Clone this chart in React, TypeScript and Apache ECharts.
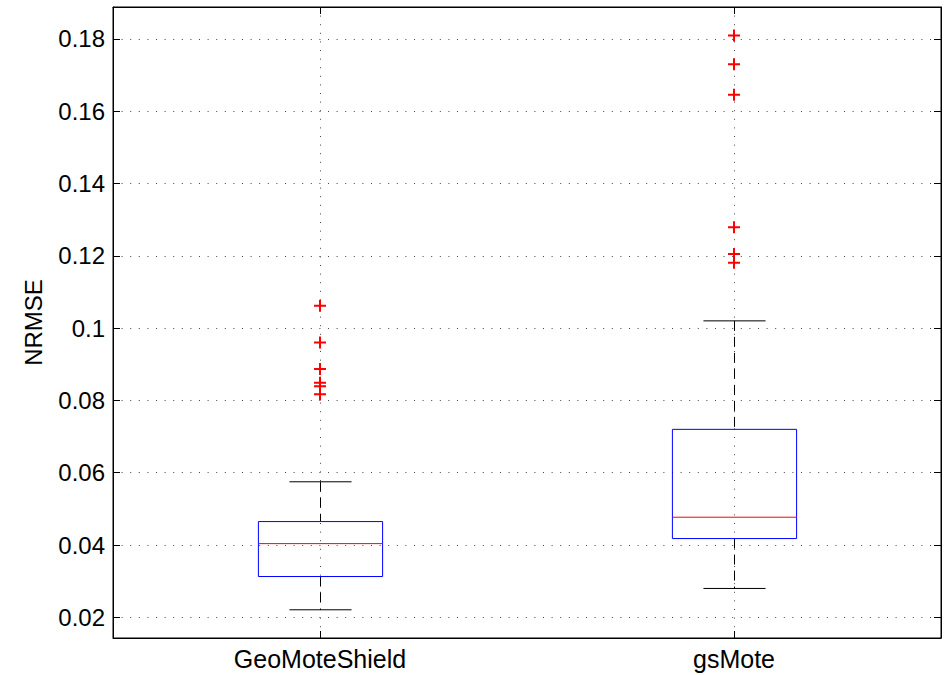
import React, { useEffect, useRef } from "react";
import * as echarts from "echarts";

const categories = ["GeoMoteShield", "gsMote"];
const whiskerLow = [0.0221, 0.028];
const q1 = [0.0313, 0.0418];
const median = [0.0404, 0.0477];
const q3 = [0.0465, 0.072];
const whiskerHigh = [0.0575, 0.102];
const outliersGeo = [0.1062, 0.096, 0.0887, 0.0849, 0.0839, 0.0817];
const outliersGs = [0.1809, 0.173, 0.1645, 0.1279, 0.1205, 0.1181];
const yTicks = [0.02, 0.04, 0.06, 0.08, 0.1, 0.12, 0.14, 0.16, 0.18];
const yMin = 0.0143;
const yMax = 0.1888;

const FONT = "'Liberation Sans', Arial, Helvetica, sans-serif";
const PLUS = "path://M5,0 h2 v5 h5 v2 h-5 v5 h-2 v-5 h-5 v-2 h5 z";
const dotted = { color: "#444", width: 1, type: [1, 7.6] as any };

export default function App() {
  const ref = useRef<HTMLDivElement>(null);
  useEffect(() => {
    if (!ref.current) return;
    const chart = echarts.init(ref.current, null, { renderer: "svg" });
    const boxData = categories.map((c, i) => [
      i,
      whiskerLow[i],
      q1[i],
      median[i],
      q3[i],
      whiskerHigh[i],
    ]);
    const outlierData: any[] = [];
    outliersGeo.forEach((v) => outlierData.push([categories[0], v]));
    outliersGs.forEach((v) => outlierData.push([categories[1], v]));

    const yAxisBase = {
      type: "value",
      min: yMin,
      max: yMax,
      axisLine: { show: true, lineStyle: { color: "#000", width: 1 } },
      axisTick: {
        show: true,
        inside: true,
        length: 7,
        customValues: yTicks,
        lineStyle: { color: "#000" },
      },
    };

    chart.setOption({
      animation: false,
      backgroundColor: "#fff",
      grid: {
        left: 113,
        right: 8,
        top: 7,
        bottom: 37,
        show: true,
        borderColor: "#000",
        borderWidth: 1,
        containLabel: false,
      },
      xAxis: [
        {
          type: "category",
          data: categories,
          position: "bottom",
          axisLine: { show: true, lineStyle: { color: "#000" } },
          axisTick: {
            show: true,
            inside: true,
            alignWithLabel: true,
            length: 7,
            lineStyle: { color: "#000" },
          },
          axisLabel: {
            color: "#000",
            fontFamily: FONT,
            fontSize: 25,
            margin: 8,
          },
          splitLine: { show: true, alignWithLabel: true, lineStyle: dotted },
        },
        {
          type: "category",
          data: categories,
          position: "top",
          axisLine: { show: true, lineStyle: { color: "#000" } },
          axisTick: {
            show: true,
            inside: true,
            alignWithLabel: true,
            length: 7,
            lineStyle: { color: "#000" },
          },
          axisLabel: { show: false },
          splitLine: { show: false },
        },
      ],
      yAxis: [
        {
          ...yAxisBase,
          position: "left",
          name: "NRMSE",
          nameLocation: "middle",
          nameGap: 68,
          nameTextStyle: { color: "#000", fontFamily: FONT, fontSize: 24 },
          axisLabel: {
            color: "#000",
            fontFamily: FONT,
            fontSize: 24,
            margin: 8,
            customValues: yTicks,
            formatter: (v: number) => String(+v.toFixed(4)),
          },
          splitLine: { show: true, lineStyle: dotted },
        },
        {
          ...yAxisBase,
          position: "right",
          axisLabel: { show: false },
          splitLine: { show: false },
        },
      ],
      series: [
        {
          type: "custom",
          xAxisIndex: 0,
          yAxisIndex: 0,
          data: boxData,
          encode: { x: 0, y: [1, 2, 3, 4, 5] },
          renderItem: (params: any, api: any) => {
            const xi = api.value(0);
            const pLow = api.coord([xi, api.value(1)]);
            const pQ1 = api.coord([xi, api.value(2)]);
            const pMed = api.coord([xi, api.value(3)]);
            const pQ3 = api.coord([xi, api.value(4)]);
            const pHigh = api.coord([xi, api.value(5)]);
            const band = api.size([1, 0])[0];
            const bw = band * 0.3;
            const cw = band * 0.15;
            const cx = Math.round(pMed[0]) + 0.5;
            const black = { stroke: "#000", lineWidth: 1, fill: null };
            const dash = { stroke: "#000", lineWidth: 1, lineDash: [10, 6], fill: null };
            return {
              type: "group",
              children: [
                { type: "line", shape: { x1: cx, y1: pHigh[1], x2: cx, y2: pQ3[1] }, style: dash },
                { type: "line", shape: { x1: cx, y1: pQ1[1], x2: cx, y2: pLow[1] }, style: dash },
                { type: "line", shape: { x1: cx - cw / 2, y1: pHigh[1], x2: cx + cw / 2, y2: pHigh[1] }, style: black },
                { type: "line", shape: { x1: cx - cw / 2, y1: pLow[1], x2: cx + cw / 2, y2: pLow[1] }, style: black },
                {
                  type: "rect",
                  shape: { x: cx - bw / 2, y: pQ3[1], width: bw, height: pQ1[1] - pQ3[1] },
                  style: { stroke: "#0000ff", lineWidth: 1, fill: null },
                },
                {
                  type: "line",
                  shape: { x1: cx - bw / 2, y1: pMed[1], x2: cx + bw / 2, y2: pMed[1] },
                  style: { stroke: "#ff0000", lineWidth: 1, fill: null },
                },
              ],
            };
          },
          z: 3,
        },
        {
          type: "scatter",
          xAxisIndex: 0,
          yAxisIndex: 0,
          data: outlierData,
          symbol: PLUS,
          symbolSize: 12,
          itemStyle: { color: "#ff0000", opacity: 1 },
          z: 4,
        },
      ],
    });
    return () => chart.dispose();
  }, []);
  return (
    <div
      ref={ref}
      style={{ position: "fixed", left: 0, top: 0, width: 949, height: 675 }}
    />
  );
}
